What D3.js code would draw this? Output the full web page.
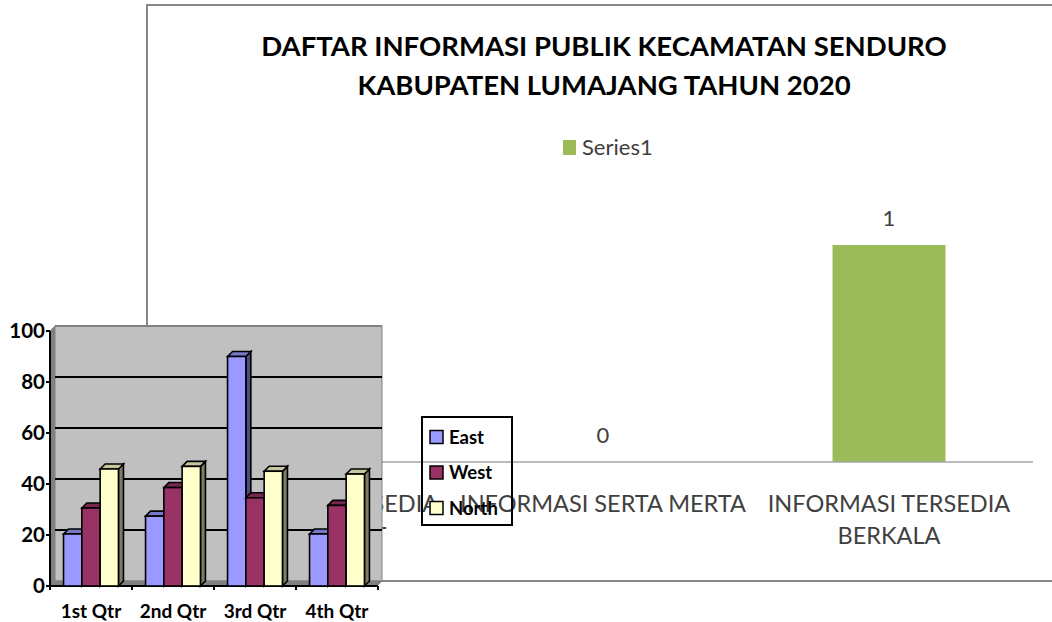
<!DOCTYPE html>
<html>
<head>
<meta charset="utf-8">
<script src="https://cdn.jsdelivr.net/npm/d3@7"></script>
<style>
  body { margin: 0; background: #fff; }
  svg { display: block; }
</style>
</head>
<body>
<div id="chart"></div>
<script>
// background chart (Series1)
const titleLines = ["DAFTAR INFORMASI PUBLIK KECAMATAN SENDURO", "KABUPATEN LUMAJANG TAHUN 2020"];
const categories = ["INFORMASI TERSEDIA SETIAP SAAT", "INFORMASI SERTA MERTA", "INFORMASI TERSEDIA BERKALA"];
const series1 = [0, 0, 1];
const seriesName = "Series1";

// overlaid 3D column chart
const quarters = ["1st Qtr", "2nd Qtr", "3rd Qtr", "4th Qtr"];
const seriesNames = ["East", "West", "North"];
const east = [20.4, 27.4, 90, 20.4];
const west = [30.6, 38.6, 34.6, 31.6];
const north = [45.9, 46.9, 45, 43.9];
const yTicks = [0, 20, 40, 60, 80, 100];

const W = 1052, H = 622;
const svg = d3.select("#chart").append("svg")
    .attr("width", W)
    .attr("height", H);

svg.append("rect").attr("width", W).attr("height", H).attr("fill", "#fff");

// ---------- background chart ----------
const bg = svg.append("g");
bg.append("rect")
    .attr("x", 147).attr("y", 5)
    .attr("width", 920).attr("height", 576)
    .attr("fill", "#fff")
    .attr("stroke", "#868686")
    .attr("stroke-width", 2);

bg.selectAll(".title")
    .data(titleLines)
    .join("text")
    .attr("class", "title")
    .attr("x", 604)
    .attr("y", (d, i) => 56 + i * 39)
    .attr("text-anchor", "middle")
    .attr("font-family", "Lato, sans-serif")
    .attr("font-weight", "bold")
    .attr("font-size", 27.5)
    .attr("fill", "#000")
    .text(d => d);

// legend Series1
bg.append("rect").attr("x", 563).attr("y", 140).attr("width", 13).attr("height", 15).attr("fill", "#9BBB59");
bg.append("text")
    .attr("x", 582).attr("y", 155)
    .attr("font-family", "Lato, sans-serif")
    .attr("font-size", 22)
    .attr("fill", "#404040")
    .text(seriesName);

const x = d3.scaleBand()
    .domain(categories)
    .range([174, 1032])
    .paddingInner(0.605)
    .paddingOuter(0.3025);

const y = d3.scaleLinear().domain([0, 1]).range([462, 245]);

bg.selectAll(".bar")
    .data(categories.map((c, i) => ({ c, v: series1[i] })))
    .join("rect")
    .attr("class", "bar")
    .attr("x", d => x(d.c))
    .attr("y", d => y(d.v))
    .attr("width", x.bandwidth())
    .attr("height", d => y(0) - y(d.v))
    .attr("fill", "#9BBB59");

bg.append("line")
    .attr("x1", 174).attr("x2", 1033)
    .attr("y1", y(0)).attr("y2", y(0))
    .attr("stroke", "#a6a6a6").attr("stroke-width", 1.5);

bg.selectAll(".val")
    .data(categories.map((c, i) => ({ c, v: series1[i] })))
    .join("text")
    .attr("class", "val")
    .attr("x", d => x(d.c) + x.bandwidth() / 2)
    .attr("y", d => y(d.v) - 19)
    .attr("text-anchor", "middle")
    .attr("font-family", "Lato, sans-serif")
    .attr("font-size", 22)
    .attr("fill", "#404040")
    .text(d => d.v);

// category labels with wrapping
const catG = bg.selectAll(".cat")
    .data(categories)
    .join("text")
    .attr("class", "cat")
    .attr("x", d => x(d) + x.bandwidth() / 2)
    .attr("y", 512)
    .attr("text-anchor", "middle")
    .attr("font-family", "Lato, sans-serif")
    .attr("font-size", 23.5)
    .attr("fill", "#404040");

catG.each(function(d) {
    const t = d3.select(this);
    const words = d.split(" ");
    const maxW = x.step() + 10;
    let line = [];
    let lines = [];
    const probe = t.append("tspan");
    words.forEach(w => {
        const test = line.concat(w).join(" ");
        probe.text(test);
        if (probe.node().getComputedTextLength() > maxW && line.length) {
            lines.push(line.join(" "));
            line = [w];
        } else {
            line.push(w);
        }
    });
    lines.push(line.join(" "));
    probe.remove();
    lines.forEach((l, i) => {
        t.append("tspan")
            .attr("x", t.attr("x"))
            .attr("dy", i === 0 ? 0 : 32)
            .text(l);
    });
});

bg.append("line")
    .attr("x1", 147).attr("x2", W)
    .attr("y1", 581).attr("y2", 581)
    .attr("stroke", "#868686").attr("stroke-width", 2);

// ---------- 3D column chart ----------
const fg = svg.append("g");
const depth = 5;
const baseY = 586;
const xq = d3.scaleBand().domain(quarters).range([50, 378]);
const xs = d3.scaleBand().domain(seriesNames).range([0, xq.bandwidth()]).paddingOuter(0.74);
const yq = d3.scaleLinear().domain([0, 100]).range([baseY, 331]);
const colors = d3.scaleOrdinal().domain(seriesNames).range(["#9999FF", "#993366", "#FFFFCC"]);

const wallL = 50 + depth, wallR = 382, wallTop = yq(100) - depth, wallBot = baseY - depth;

// side wall
fg.append("polygon")
    .attr("points", [[50, yq(100)], [wallL, wallTop], [wallL, wallBot], [50, baseY]].join(" "))
    .attr("fill", "#808080").attr("stroke", "#808080");
// back wall
fg.append("rect")
    .attr("x", wallL).attr("y", wallTop)
    .attr("width", wallR - wallL).attr("height", wallBot - wallTop)
    .attr("fill", "#C0C0C0").attr("stroke", "#808080").attr("stroke-width", 1);
// floor
fg.append("polygon")
    .attr("points", [[50, baseY], [wallL, wallBot], [wallR, wallBot], [wallR - depth, baseY]].join(" "))
    .attr("fill", "#808080").attr("stroke", "#808080");

// gridlines on back wall
fg.selectAll(".grid")
    .data(yTicks.filter(v => v > 0 && v < 100))
    .join("line")
    .attr("class", "grid")
    .attr("x1", wallL).attr("x2", wallR)
    .attr("y1", d => yq(d) - depth).attr("y2", d => yq(d) - depth)
    .attr("stroke", "#000").attr("stroke-width", 2);
fg.append("line")
    .attr("x1", wallL).attr("x2", wallR)
    .attr("y1", wallTop).attr("y2", wallTop)
    .attr("stroke", "#808080").attr("stroke-width", 2);

// y axis
fg.append("line")
    .attr("x1", 50).attr("x2", 50)
    .attr("y1", yq(100)).attr("y2", baseY)
    .attr("stroke", "#000").attr("stroke-width", 2);
fg.selectAll(".ytick")
    .data(yTicks)
    .join("line")
    .attr("x1", 46).attr("x2", 50)
    .attr("y1", d => yq(d)).attr("y2", d => yq(d))
    .attr("stroke", "#000").attr("stroke-width", 2);
fg.selectAll(".ylab")
    .data(yTicks)
    .join("text")
    .attr("x", 45)
    .attr("y", d => yq(d))
    .attr("dy", "0.35em")
    .attr("text-anchor", "end")
    .attr("font-family", "Lato, sans-serif")
    .attr("font-weight", "bold")
    .attr("font-size", 20.5)
    .attr("fill", "#000")
    .text(d => d);

// x axis
fg.append("line")
    .attr("x1", 50).attr("x2", 378)
    .attr("y1", baseY).attr("y2", baseY)
    .attr("stroke", "#000").attr("stroke-width", 2);
fg.selectAll(".xtick")
    .data(quarters.map(q => xq(q)).concat([xq.range()[1]]))
    .join("line")
    .attr("x1", d => d).attr("x2", d => d)
    .attr("y1", baseY).attr("y2", baseY + 4)
    .attr("stroke", "#000").attr("stroke-width", 2);
fg.selectAll(".xlab")
    .data(quarters)
    .join("text")
    .attr("x", d => xq(d) + xq.bandwidth() / 2)
    .attr("y", 618)
    .attr("text-anchor", "middle")
    .attr("font-family", "Lato, sans-serif")
    .attr("font-weight", "bold")
    .attr("font-size", 19)
    .attr("fill", "#000")
    .text(d => d);

// bars
const barData = [];
quarters.forEach((q, i) => {
    [east, west, north].forEach((arr, j) => {
        barData.push({ q, s: seriesNames[j], v: arr[i] });
    });
});

const bw = xs.bandwidth();
const bars = fg.selectAll(".bar3d")
    .data(barData)
    .join("g")
    .attr("class", "bar3d");

bars.each(function(d) {
    const g = d3.select(this);
    const x0 = xq(d.q) + xs(d.s);
    const yt = yq(d.v);
    const c = d3.color(colors(d.s));
    g.append("polygon")
        .attr("points", [[x0 + bw, yt], [x0 + bw + depth, yt - depth], [x0 + bw + depth, baseY - depth], [x0 + bw, baseY]].join(" "))
        .attr("fill", c.darker(2)).attr("stroke", "#000").attr("stroke-width", 1.6);
    g.append("polygon")
        .attr("points", [[x0, yt], [x0 + depth, yt - depth], [x0 + bw + depth, yt - depth], [x0 + bw, yt]].join(" "))
        .attr("fill", c.darker(0.7)).attr("stroke", "#000").attr("stroke-width", 1.6);
    g.append("rect")
        .attr("x", x0).attr("y", yt)
        .attr("width", bw).attr("height", baseY - yt)
        .attr("fill", c).attr("stroke", "#000").attr("stroke-width", 1.6);
});

// legend
const leg = fg.append("g");
leg.append("rect")
    .attr("x", 422).attr("y", 417)
    .attr("width", 90).attr("height", 108)
    .attr("fill", "none").attr("stroke", "#000").attr("stroke-width", 2);
const legItems = leg.selectAll(".li")
    .data(seriesNames)
    .join("g")
    .attr("transform", (d, i) => `translate(430, ${437 + i * 35.5})`);
legItems.append("rect")
    .attr("x", 0).attr("y", -6.5)
    .attr("width", 13).attr("height", 13)
    .attr("fill", d => colors(d)).attr("stroke", "#000").attr("stroke-width", 1.5);
legItems.append("text")
    .attr("x", 19)
    .attr("dy", "0.36em")
    .attr("font-family", "Lato, sans-serif")
    .attr("font-weight", "bold")
    .attr("font-size", 18.5)
    .attr("fill", "#000")
    .text(d => d);
</script>
</body>
</html>
